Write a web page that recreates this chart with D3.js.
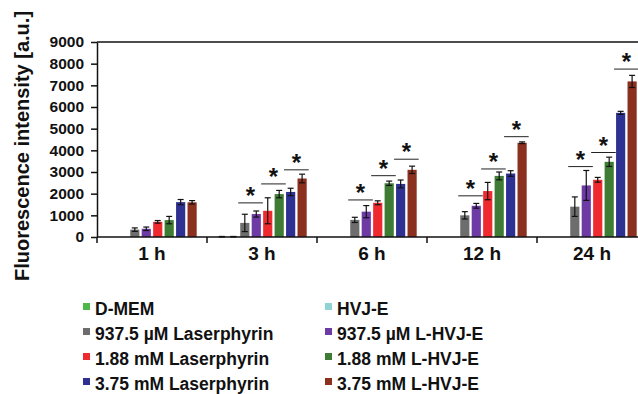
<!DOCTYPE html>
<html>
<head>
<meta charset="utf-8">
<script src="https://cdn.jsdelivr.net/npm/d3@7"></script>
<style>
  body { margin: 0; background: #fff; }
  text { font-family: "Liberation Sans", Arial, sans-serif; font-weight: bold; fill: #111; }
</style>
</head>
<body>
<svg id="chart" width="638" height="394"></svg>
<script>
// categories (time points)
var groups = ["1 h", "3 h", "6 h", "12 h", "24 h"];

// series, in bar order
var seriesNames = ["D-MEM", "HVJ-E", "937.5 µM Laserphyrin", "937.5 µM L-HVJ-E",
                   "1.88 mM Laserphyrin", "1.88 mM L-HVJ-E", "3.75 mM Laserphyrin", "3.75 mM L-HVJ-E"];
var seriesColors = ["#4db748", "#8fd3d3", "#6d6d6d", "#6e3aa4",
                    "#ee2a2f", "#3e7b35", "#2e3192", "#8b2f1f"];

// mean values per series (one per time point)
var dmem        = [0, 15, 0, 0, 0];
var hvje        = [0, 15, 0, 0, 0];
var laser937    = [340, 650, 790, 1000, 1400];
var lhvje937    = [380, 1060, 1170, 1440, 2380];
var laser188    = [700, 1210, 1580, 2120, 2640];
var lhvje188    = [780, 1980, 2480, 2820, 3470];
var laser375    = [1610, 2080, 2450, 2930, 5730];
var lhvje375    = [1600, 2700, 3100, 4350, 7180];

// error (± value) per series
var dmemErr     = [0, 10, 0, 0, 0];
var hvjeErr     = [0, 10, 0, 0, 0];
var laser937Err = [80, 400, 120, 170, 450];
var lhvje937Err = [80, 140, 280, 110, 690];
var laser188Err = [60, 600, 90, 400, 110];
var lhvje188Err = [170, 170, 100, 180, 215];
var laser375Err = [120, 170, 180, 130, 70];
var lhvje375Err = [80, 200, 170, 40, 280];

var means = [dmem, hvje, laser937, lhvje937, laser188, lhvje188, laser375, lhvje375];
var errs  = [dmemErr, hvjeErr, laser937Err, lhvje937Err, laser188Err, lhvje188Err, laser375Err, lhvje375Err];

// significance marks: [group, first series, last series, level]
var sigGroup = [1, 1, 1, 2, 2, 2, 3, 3, 3, 4, 4, 4];
var sigFrom  = [2, 4, 6, 2, 4, 6, 2, 4, 6, 2, 4, 6];
var sigTo    = [3, 5, 7, 3, 5, 7, 3, 5, 7, 3, 5, 7];
var sigLevel = [1575, 2450, 3100, 1710, 2830, 3590, 1900, 3140, 4630, 3250, 3900, 7750];

var yTicks = [0, 1000, 2000, 3000, 4000, 5000, 6000, 7000, 8000, 9000];

var svg = d3.select('#chart');
var plotLeft = 97, plotTop = 42, plotBottom = 237, groupW = 110;

var x0 = d3.scaleBand()
  .domain(groups)
  .range([plotLeft, plotLeft + groupW * groups.length]);

var x1 = d3.scaleBand()
  .domain(d3.range(seriesNames.length))
  .range([0, groupW])
  .paddingInner(0.2)
  .paddingOuter(0.9);

var y = d3.scaleLinear().domain([0, 9000]).range([plotBottom, plotTop]);

// flatten into bar records
var bars = [];
groups.forEach(function(g, gi) {
  means.forEach(function(s, si) {
    bars.push({g: g, s: si, v: s[gi], e: errs[si][gi]});
  });
});

var barG = svg.append('g');
barG.selectAll('rect')
  .data(bars)
  .enter()
  .append('rect')
  .attr('x', function(d) { return x0(d.g) + x1(d.s); })
  .attr('y', function(d) { return y(d.v); })
  .attr('width', x1.bandwidth())
  .attr('height', function(d) { return y(0) - y(d.v); })
  .style('fill', function(d) { return seriesColors[d.s]; });

// error bars
var errBars = bars.filter(function(d) { return d.e > 0; });
var capW = 3;
var eb = svg.append('g')
  .style('stroke', '#111')
  .style('stroke-width', '1.2px');
eb.selectAll('line.v')
  .data(errBars)
  .enter()
  .append('line')
  .attr('x1', function(d) { return x0(d.g) + x1(d.s) + x1.bandwidth() / 2; })
  .attr('x2', function(d) { return x0(d.g) + x1(d.s) + x1.bandwidth() / 2; })
  .attr('y1', function(d) { return y(d.v - d.e); })
  .attr('y2', function(d) { return y(d.v + d.e); });
[1, -1].forEach(function(sign) {
  eb.selectAll(null)
    .data(errBars)
    .enter()
    .append('line')
    .attr('x1', function(d) { return x0(d.g) + x1(d.s) + x1.bandwidth() / 2 - capW; })
    .attr('x2', function(d) { return x0(d.g) + x1(d.s) + x1.bandwidth() / 2 + capW; })
    .attr('y1', function(d) { return y(d.v + sign * d.e); })
    .attr('y2', function(d) { return y(d.v + sign * d.e); });
});

// y axis
var yAxis = d3.axisLeft(y).tickValues(yTicks).tickSize(6).tickSizeOuter(0).tickFormat(d3.format('d'));
var yg = svg.append('g')
  .attr('transform', 'translate(' + plotLeft + ',0)')
  .call(yAxis);
yg.selectAll('text').style('font-size', '15.5px').attr('x', -13);
yg.selectAll('line, path').style('stroke', '#111').style('stroke-width', '1.5px');

// top frame line
svg.append('line')
  .attr('x1', plotLeft).attr('x2', 638)
  .attr('y1', plotTop).attr('y2', plotTop)
  .style('stroke', '#111').style('stroke-width', '1.5px');

// x axis: baseline with ticks on group boundaries
var xg = svg.append('g');
xg.append('line')
  .attr('x1', plotLeft).attr('x2', 638)
  .attr('y1', y(0)).attr('y2', y(0))
  .style('stroke', '#111').style('stroke-width', '1.5px');
xg.selectAll('line.tk')
  .data(groups)
  .enter()
  .append('line')
  .attr('x1', function(d) { return x0(d); })
  .attr('x2', function(d) { return x0(d); })
  .attr('y1', y(0)).attr('y2', y(0) + 6)
  .style('stroke', '#111').style('stroke-width', '1.5px');
xg.selectAll('text')
  .data(groups)
  .enter()
  .append('text')
  .attr('x', function(d) { return x0(d) + x0.bandwidth() / 2; })
  .attr('y', 260)
  .attr('text-anchor', 'middle')
  .style('font-size', '19px')
  .text(function(d) { return d; });

// y title
svg.append('text')
  .attr('transform', 'translate(29,146) rotate(-90)')
  .attr('text-anchor', 'middle')
  .style('font-size', '20px')
  .text('Fluorescence intensity [a.u.]');

// significance lines and asterisks
var sig = sigGroup.map(function(g, i) {
  return {g: groups[g], a: sigFrom[i], b: sigTo[i], lv: sigLevel[i]};
});
var sg = svg.append('g');
sg.selectAll('line')
  .data(sig)
  .enter()
  .append('line')
  .attr('x1', function(d) { return x0(d.g) + x1(d.a) - 2; })
  .attr('x2', function(d) { return x0(d.g) + x1(d.b) + x1.bandwidth() + 2; })
  .attr('y1', function(d) { return y(d.lv); })
  .attr('y2', function(d) { return y(d.lv); })
  .style('stroke', '#222').style('stroke-width', '1px');
sg.selectAll('text')
  .data(sig)
  .enter()
  .append('text')
  .attr('x', function(d) { return (x0(d.g) + x1(d.a) + x0(d.g) + x1(d.b) + x1.bandwidth()) / 2; })
  .attr('y', function(d) { return y(d.lv) + 1; })
  .attr('text-anchor', 'middle')
  .style('font-size', '24px')
  .text('*');

// legend: two columns, filled row by row
var lg = svg.append('g');
var leg = lg.selectAll('g')
  .data(seriesNames)
  .enter()
  .append('g')
  .attr('transform', function(d, i) {
    return 'translate(' + (i % 2 === 0 ? 83 : 325) + ',' + (315 + Math.floor(i / 2) * 25) + ')';
  });
leg.append('rect')
  .attr('x', 0).attr('y', -12)
  .attr('width', 7).attr('height', 7)
  .style('fill', function(d, i) { return seriesColors[i]; });
leg.append('text')
  .attr('x', 12).attr('y', 0)
  .style('font-size', '17.5px')
  .text(function(d) { return d; });
</script>
</body>
</html>
